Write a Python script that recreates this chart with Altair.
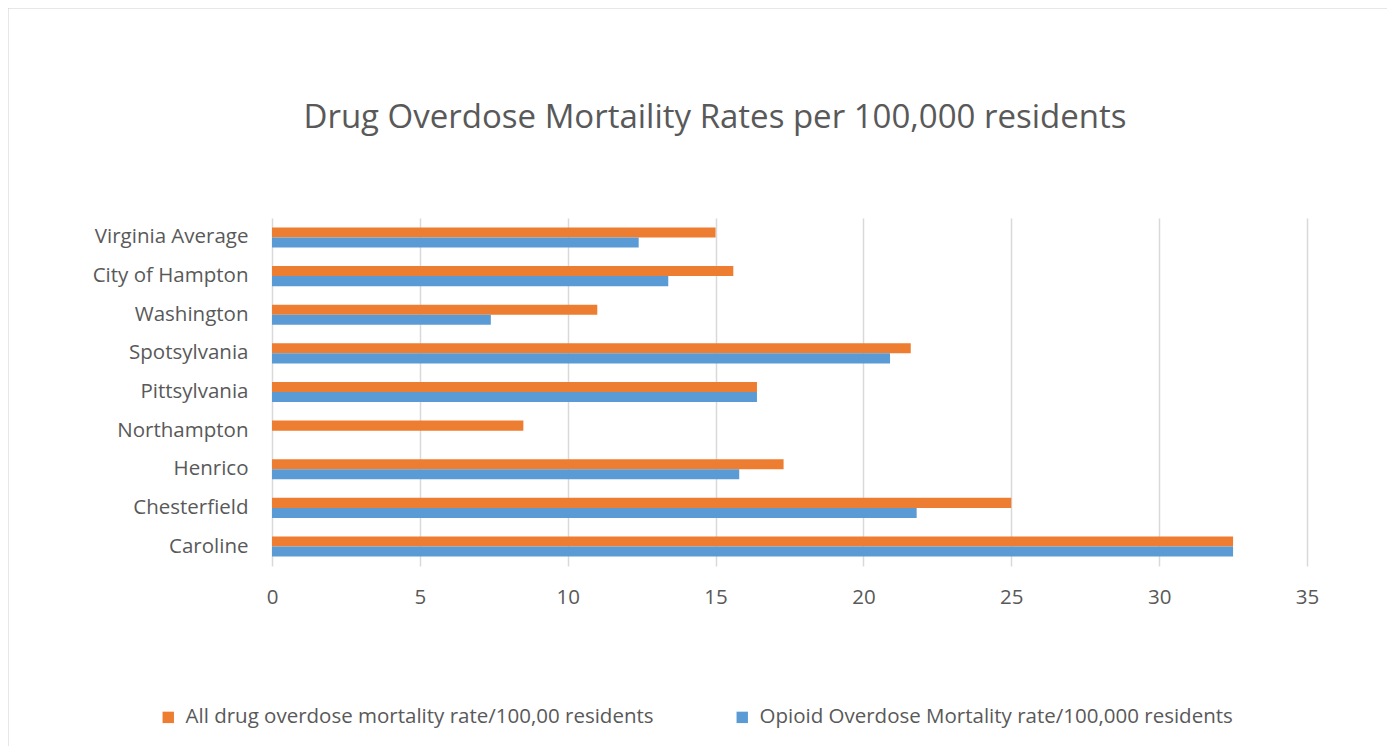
import altair as alt
import pandas as pd

title_text = "Drug Overdose Mortaility Rates per 100,000 residents"
categories = ["Virginia Average", "City of Hampton", "Washington", "Spotsylvania",
              "Pittsylvania", "Northampton", "Henrico", "Chesterfield", "Caroline"]
all_drug = [15.0, 15.6, 11.0, 21.6, 16.4, 8.5, 17.3, 25.0, 32.5]
opioid = [12.4, 13.4, 7.4, 20.9, 16.4, None, 15.8, 21.8, 32.5]
series_names = ["All drug overdose mortality rate/100,00 residents",
                "Opioid Overdose Mortality rate/100,000 residents"]
series_colors = ["#ED7D31", "#5B9BD5"]
x_ticks = [0, 5, 10, 15, 20, 25, 30, 35]

rows = []
for c, a, o in zip(categories, all_drug, opioid):
    rows.append({"category": c, "series": series_names[0], "value": a})
    if o is not None:
        rows.append({"category": c, "series": series_names[1], "value": o})
df = pd.DataFrame(rows)

FONT = "Open Sans"
TXT = "#595959"
GRID = "#d9d9d9"
FS = 20.5

bars = alt.Chart(df).mark_bar().encode(
    x=alt.X("value:Q",
            scale=alt.Scale(domain=[0, 35], nice=False),
            axis=alt.Axis(values=x_ticks, title=None, grid=True, gridColor=GRID,
                          gridWidth=1.5, domain=False, ticks=False, labelFlush=False,
                          labelFontSize=FS, labelColor=TXT, labelFont=FONT,
                          labelPadding=21)),
    y=alt.Y("category:N", sort=categories,
            scale=alt.Scale(paddingInner=0.48, paddingOuter=0.244),
            axis=alt.Axis(title=None, domain=False, ticks=False,
                          labelFontSize=FS, labelColor=TXT, labelFont=FONT,
                          labelPadding=24, labelLimit=400)),
    yOffset=alt.YOffset("series:N", sort=series_names,
                        scale=alt.Scale(paddingInner=0, paddingOuter=0)),
    color=alt.Color("series:N", sort=series_names,
                    scale=alt.Scale(domain=series_names, range=series_colors),
                    legend=alt.Legend(title=None, orient="none", direction="horizontal",
                                      legendX=-114, legendY=489,
                                      symbolType="square", symbolSize=130,
                                      symbolStrokeWidth=0,
                                      labelFontSize=FS, labelColor=TXT, labelFont=FONT,
                                      labelOffset=7, columnPadding=78, labelLimit=700)),
)

border = alt.Chart(alt.Data(values=[{}])).mark_rect(
    fill=None, stroke="#cfcfcf", strokeWidth=2, clip=False
).encode(
    x=alt.value(-264.5), x2=alt.value(1118),
    y=alt.value(-210.5), y2=alt.value(560)
)

title = alt.Chart(alt.Data(values=[{"t": title_text}])).mark_text(
    font=FONT, fontSize=33, color=TXT, align="center", baseline="alphabetic"
).encode(
    text="t:N", x=alt.value(443), y=alt.value(-90)
)

chart = alt.layer(border, title, bars).properties(
    width=1035, height=348,
    background="white",
    autosize=alt.AutoSizeParams(type="none"),
    padding={"left": 264, "top": 210, "right": 80, "bottom": 180},
).configure_view(strokeWidth=0, stroke=None)

chart.save("out.html", embed_options={"renderer": "svg", "actions": False})
